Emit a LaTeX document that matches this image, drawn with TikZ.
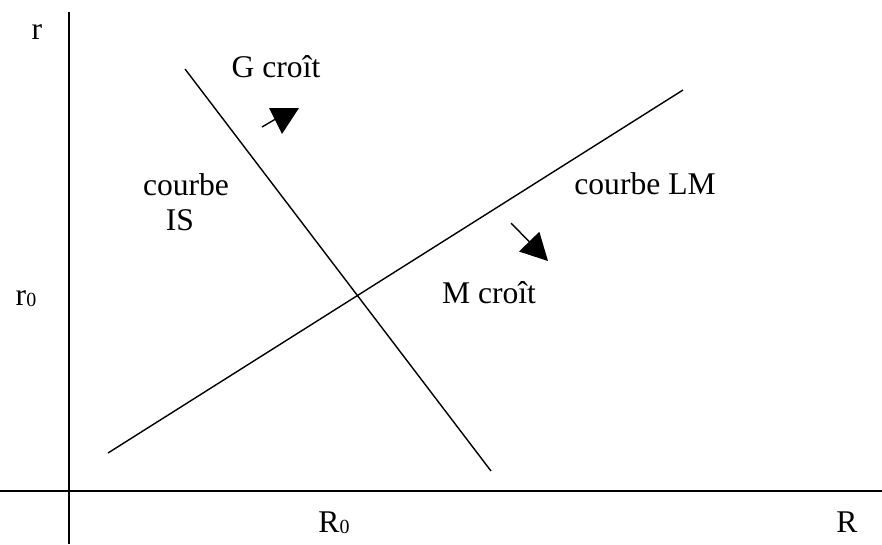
\documentclass[tikz,border=0pt]{standalone}
\usepackage{fontspec}
\setmainfont{Liberation Serif}
\usetikzlibrary{arrows.meta}

\begin{document}
\begin{tikzpicture}[x=1pt, y=-1pt,
  lbl/.style={font=\fontsize{31.6}{36}\selectfont, inner sep=0pt, anchor=base},
  ax/.style={line width=1.6pt},
  crv/.style={line width=1.4pt},
  push/.style={line width=1.4pt, -{Triangle[length=27pt, width=28pt]}}]
  \useasboundingbox (0,0) rectangle (882,544);

  % axes
  \draw[ax] (69,12) -- (69,544);
  \draw[ax] (0,491) -- (882,491);

  % IS and LM
  \coordinate (is1) at (185,69);
  \coordinate (is2) at (491,471);
  \coordinate (lm1) at (108,453);
  \coordinate (lm2) at (683,90);
  \draw[crv] (is1) -- (is2);
  \draw[crv] (lm1) -- (lm2);

  % shifts
  \coordinate (g0) at (262,127);
  \coordinate (g1) at (279,117);
  \draw[crv] (g0) -- (g1);
  \fill (269,108) -- (299,108) -- (282,134) -- cycle;
  \coordinate (m0) at (511,223);
  \coordinate (m1) at (548,261);
  \draw[push] (m0) -- (m1);

  % labels
  \newcommand\low[1]{\raisebox{-1.5pt}{\fontsize{20}{20}\selectfont #1}}
  \node[lbl] (r) at (37,39) {r};
  \node[lbl] (r0) at (26,305) {r\low{0}};
  \node[lbl] (R0) at (334,532) {R\low{0}};
  \node[lbl] (R) at (847,532) {R};
  \node[lbl] (gup) at (276,77) {G croît};
  \node[lbl] (mup) at (489,303) {M croît};
  \node[lbl] (isA) at (186,195) {courbe};
  \node[lbl] (isB) at (180,230) {IS};
  \node[lbl] (lm) at (645,194) {courbe LM};
\end{tikzpicture}
\end{document}
